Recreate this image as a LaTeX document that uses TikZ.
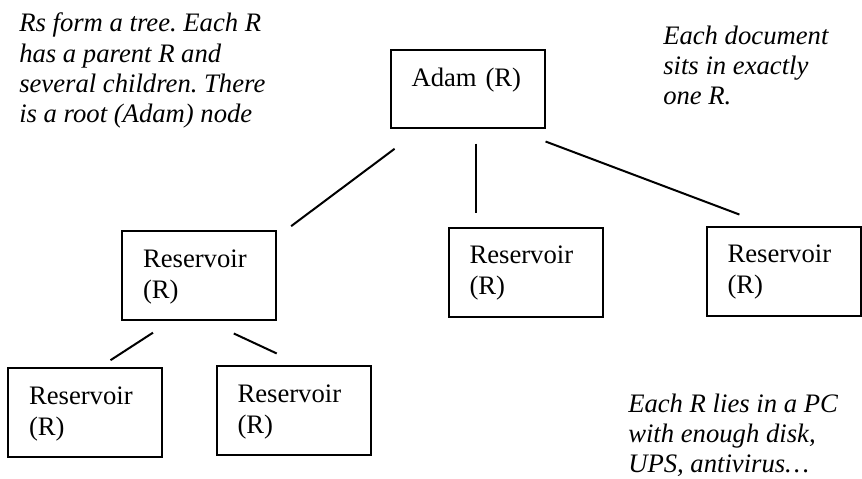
\documentclass[tikz,border=0pt]{standalone}
\usepackage{fontspec}
\setmainfont{Liberation Serif}
\usetikzlibrary{calc}
\newcommand{\restextw}{84pt}
\newcommand{\respad}{15.75pt}
\newcommand{\restop}{27pt}
\newcommand{\resbot}{39.75pt}
\newcommand{\adambot}{31pt}
\newcommand{\boxfont}{\fontsize{20}{23.25}\selectfont}
\newcommand{\notefont}{\fontsize{20}{22.5}\selectfont\itshape\frenchspacing}

\begin{document}
\begin{tikzpicture}[x=0.75pt,y=-0.75pt,
    res/.style={draw,line width=1.5pt,align=left,text width=\restextw,
      inner xsep=\respad,inner ysep=0pt,text height=\restop,
      text depth=\resbot,font=\boxfont},
    note/.style={anchor=base west,align=left,inner sep=0pt,font=\notefont},
    link/.style={line width=1.5pt}]
    \useasboundingbox (0,0) rectangle (862,478);
    % the tree of reservoirs
    \node[res,text depth=\adambot] (adam) at (467.5,89) {Adam (R)};
    \node[res] (resleft) at (199,275.5) {Reservoir\\(R)};
    \node[res] (resmid) at (525.5,272) {Reservoir\\(R)};
    \node[res] (resright) at (783.5,271) {Reservoir\\(R)};
    \node[res] (resll) at (85,412.5) {Reservoir\\(R)};
    \node[res] (reslr) at (293.5,410.5) {Reservoir\\(R)};
    \begin{scope}
      \draw[link,shorten <=25.2pt,shorten >=4.8pt]
        ($(adam.south west)+(32,0)$) -- ($(resleft.north east)+(9,0)$);
      \draw[link,shorten <=11.25pt,shorten >=10.5pt]
        ($(adam.south west)+(86,0)$) -- ($(resmid.north west)+(28,0)$);
      \draw[link,shorten <=27.3pt,shorten >=23.3pt]
        ($(adam.south west)+(122,0)$) -- ($(resright.north west)+(63,0)$);
      \draw[link,shorten <=16.1pt,shorten >=9.4pt]
        ($(resleft.south west)+(50,0)$) -- ($(resll.north west)+(93,0)$);
      \draw[link,shorten <=22.2pt,shorten >=20.5pt]
        ($(resleft.south west)+(86,0)$) -- ($(reslr.north west)+(86,0)$);
    \end{scope}
    % remarks (placed by the baseline of their last line)
    \begin{scope}
      \node[note] (treenote) at (19,122)
        {Rs form a tree. Each R\\has a parent R and\\several children. There\\is a root (Adam) node};
      \node[note] (docnote) at (663,104) {Each document\\sits in exactly\\one R.};
      \node[note] (pcnote) at (628,472)
        {Each R lies in a PC\\with enough disk,\\UPS, antivirus…};
    \end{scope}
\end{tikzpicture}
\end{document}
